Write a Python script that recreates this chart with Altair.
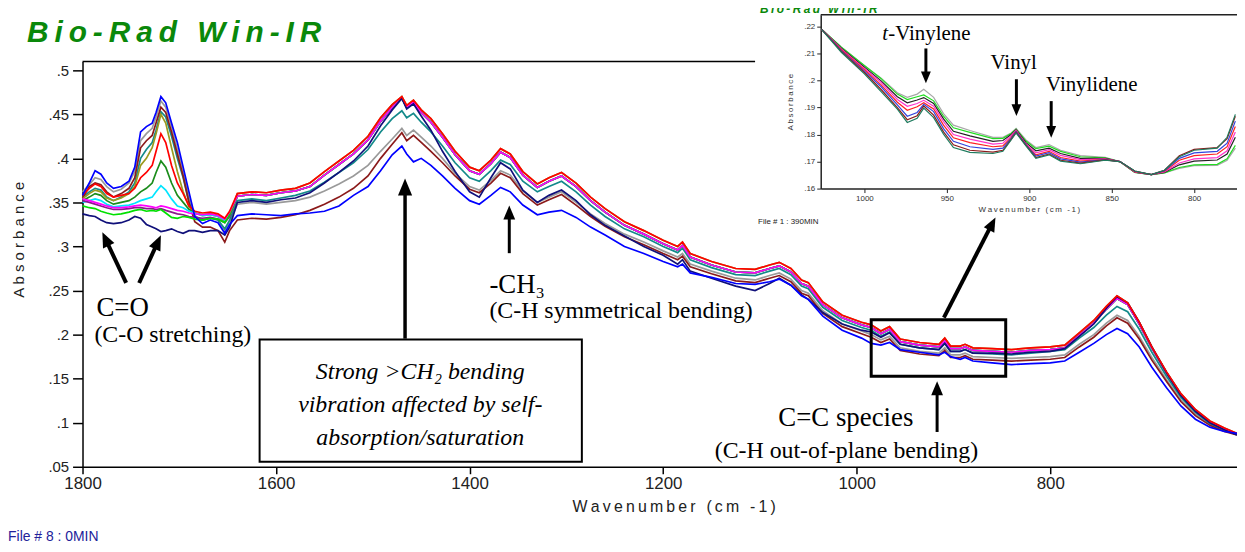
import altair as alt
import pandas as pd

# ---------------- main spectra: carbonyl head (1800-1648 cm-1) ----------------
HEAD_WN = [1800, 1793, 1787, 1781, 1775, 1768, 1760, 1752, 1746, 1740, 1734, 1728, 1724,
           1719, 1714, 1708, 1702, 1696, 1690, 1684, 1676, 1668, 1660, 1653, 1648]

BLUE_H = [0.358, 0.372, 0.386, 0.382, 0.372, 0.366, 0.368, 0.374, 0.390, 0.430, 0.436, 0.440, 0.452,
          0.470, 0.463, 0.440, 0.418, 0.390, 0.362, 0.334, 0.326, 0.330, 0.327, 0.315, 0.325]
GRAY_H = [0.362, 0.370, 0.378, 0.376, 0.368, 0.362, 0.365, 0.372, 0.385, 0.420, 0.428, 0.434, 0.447,
          0.465, 0.458, 0.436, 0.410, 0.386, 0.356, 0.335, 0.330, 0.332, 0.330, 0.318, 0.328]
DRED_H = [0.355, 0.368, 0.372, 0.370, 0.362, 0.356, 0.360, 0.366, 0.378, 0.412, 0.420, 0.426, 0.440,
          0.458, 0.452, 0.430, 0.405, 0.380, 0.350, 0.328, 0.322, 0.322, 0.318, 0.305, 0.318]
TEAL_H = [0.356, 0.362, 0.366, 0.364, 0.356, 0.352, 0.356, 0.362, 0.372, 0.400, 0.410, 0.418, 0.432,
          0.453, 0.447, 0.425, 0.400, 0.378, 0.350, 0.334, 0.330, 0.332, 0.330, 0.320, 0.330]
OLIVE_H = [0.354, 0.360, 0.364, 0.362, 0.355, 0.352, 0.355, 0.360, 0.368, 0.392, 0.400, 0.412, 0.428,
           0.450, 0.440, 0.412, 0.385, 0.362, 0.345, 0.338, 0.335, 0.336, 0.334, 0.328, 0.336]
RED_H = [0.358, 0.366, 0.371, 0.368, 0.360, 0.356, 0.358, 0.360, 0.366, 0.378, 0.384, 0.392, 0.408,
         0.428, 0.418, 0.392, 0.372, 0.360, 0.346, 0.340, 0.338, 0.339, 0.337, 0.332, 0.340]
DKGREEN_H = [0.352, 0.356, 0.360, 0.358, 0.352, 0.348, 0.350, 0.352, 0.356, 0.362, 0.366, 0.372, 0.384,
             0.397, 0.390, 0.372, 0.358, 0.350, 0.342, 0.338, 0.336, 0.337, 0.335, 0.330, 0.338]
CYAN_H = [0.350, 0.352, 0.354, 0.352, 0.348, 0.345, 0.346, 0.347, 0.349, 0.352, 0.354, 0.356, 0.362,
          0.369, 0.364, 0.354, 0.346, 0.344, 0.340, 0.338, 0.335, 0.336, 0.334, 0.330, 0.338]
MAGENTA_H = [0.354, 0.352, 0.350, 0.348, 0.346, 0.344, 0.344, 0.345, 0.346, 0.347, 0.346, 0.345, 0.344,
             0.346, 0.345, 0.343, 0.341, 0.340, 0.338, 0.337, 0.336, 0.337, 0.335, 0.331, 0.339]
LIME_H = [0.346, 0.344, 0.343, 0.340, 0.338, 0.336, 0.337, 0.339, 0.341, 0.342, 0.340, 0.341, 0.340,
          0.342, 0.338, 0.333, 0.332, 0.334, 0.333, 0.331, 0.330, 0.332, 0.331, 0.327, 0.336]
PURPLE_H = [0.352, 0.350, 0.348, 0.346, 0.344, 0.342, 0.342, 0.343, 0.344, 0.344, 0.343, 0.343, 0.342,
            0.343, 0.341, 0.339, 0.337, 0.336, 0.334, 0.333, 0.332, 0.333, 0.331, 0.327, 0.334]
NAVY_H = [0.337, 0.335, 0.334, 0.330, 0.327, 0.326, 0.327, 0.330, 0.334, 0.332, 0.325, 0.322, 0.320,
          0.317, 0.318, 0.320, 0.317, 0.315, 0.318, 0.318, 0.316, 0.318, 0.318, 0.313, 0.322]

# ---------------- main spectra: rest of the range (1640-607 cm-1) ----------------
TAIL_WN = [1640, 1625, 1610, 1595, 1580, 1565, 1550, 1535, 1520, 1505,
           1492, 1480, 1470, 1465, 1458, 1450, 1440, 1428, 1415, 1400,
           1390, 1378, 1368, 1358, 1345, 1330, 1318, 1305, 1290, 1275,
           1260, 1240, 1220, 1200, 1185, 1180, 1172, 1150, 1125, 1105,
           1090, 1080, 1068, 1057, 1050, 1035, 1015, 995, 985, 975,
           966, 955, 935, 915, 909, 903, 893, 888, 880, 860,
           840, 820, 800, 785, 770, 755, 742, 731, 720, 708,
           695, 680, 665, 650, 635, 620, 607]

T_TOP = [0.360, 0.362, 0.361, 0.364, 0.366, 0.372, 0.385, 0.397, 0.409, 0.425,
         0.446, 0.461, 0.470, 0.460, 0.466, 0.455, 0.445, 0.428, 0.408, 0.390,
         0.386, 0.398, 0.411, 0.405, 0.385, 0.371, 0.378, 0.384, 0.372, 0.356,
         0.343, 0.328, 0.318, 0.307, 0.300, 0.305, 0.292, 0.283, 0.275, 0.274,
         0.279, 0.282, 0.275, 0.262, 0.259, 0.237, 0.222, 0.214, 0.211, 0.204,
         0.209, 0.195, 0.191, 0.189, 0.196, 0.187, 0.187, 0.189, 0.185, 0.184,
         0.183, 0.185, 0.186, 0.188, 0.202, 0.216, 0.232, 0.244, 0.236, 0.214,
         0.186, 0.158, 0.133, 0.115, 0.102, 0.094, 0.088]
T_TOP2 = [0.357, 0.359, 0.358, 0.361, 0.363, 0.368, 0.381, 0.393, 0.405, 0.421,
          0.442, 0.458, 0.468, 0.458, 0.464, 0.452, 0.441, 0.424, 0.404, 0.386,
          0.382, 0.394, 0.407, 0.401, 0.381, 0.367, 0.374, 0.380, 0.368, 0.352,
          0.339, 0.324, 0.314, 0.303, 0.296, 0.301, 0.288, 0.279, 0.271, 0.270,
          0.275, 0.278, 0.271, 0.258, 0.255, 0.234, 0.219, 0.211, 0.208, 0.201,
          0.206, 0.192, 0.188, 0.186, 0.193, 0.184, 0.184, 0.186, 0.182, 0.181,
          0.180, 0.182, 0.183, 0.185, 0.199, 0.213, 0.229, 0.241, 0.234, 0.212,
          0.185, 0.157, 0.132, 0.114, 0.101, 0.093, 0.087]
T_NAVY = [0.350, 0.352, 0.350, 0.353, 0.355, 0.361, 0.372, 0.384, 0.397, 0.414,
          0.437, 0.455, 0.468, 0.456, 0.462, 0.448, 0.432, 0.408, 0.385, 0.362,
          0.356, 0.378, 0.395, 0.388, 0.364, 0.350, 0.358, 0.364, 0.352, 0.336,
          0.324, 0.312, 0.300, 0.290, 0.280, 0.285, 0.272, 0.264, 0.255, 0.250,
          0.258, 0.264, 0.256, 0.245, 0.240, 0.225, 0.212, 0.205, 0.203, 0.197,
          0.202, 0.189, 0.185, 0.183, 0.190, 0.181, 0.181, 0.183, 0.179, 0.179,
          0.178, 0.180, 0.181, 0.184, 0.198, 0.212, 0.230, 0.243, 0.236, 0.214,
          0.186, 0.157, 0.131, 0.113, 0.100, 0.092, 0.086]
T_TEAL = [0.352, 0.354, 0.352, 0.355, 0.358, 0.363, 0.373, 0.384, 0.395, 0.410,
          0.430, 0.445, 0.454, 0.446, 0.451, 0.441, 0.430, 0.414, 0.395, 0.378,
          0.374, 0.386, 0.398, 0.393, 0.374, 0.362, 0.368, 0.374, 0.362, 0.347,
          0.334, 0.320, 0.311, 0.300, 0.293, 0.298, 0.285, 0.276, 0.268, 0.267,
          0.272, 0.275, 0.268, 0.255, 0.252, 0.231, 0.216, 0.208, 0.205, 0.198,
          0.203, 0.189, 0.185, 0.183, 0.190, 0.181, 0.181, 0.183, 0.179, 0.178,
          0.177, 0.179, 0.181, 0.183, 0.196, 0.208, 0.222, 0.232, 0.226, 0.206,
          0.180, 0.153, 0.129, 0.112, 0.099, 0.092, 0.087]
T_GRAY = [0.348, 0.350, 0.348, 0.350, 0.352, 0.356, 0.363, 0.371, 0.380, 0.392,
          0.408, 0.422, 0.434, 0.426, 0.432, 0.424, 0.414, 0.400, 0.383, 0.368,
          0.364, 0.375, 0.386, 0.381, 0.363, 0.350, 0.356, 0.362, 0.350, 0.337,
          0.326, 0.314, 0.305, 0.295, 0.288, 0.292, 0.280, 0.272, 0.264, 0.262,
          0.267, 0.270, 0.263, 0.250, 0.247, 0.227, 0.212, 0.204, 0.200, 0.194,
          0.198, 0.185, 0.181, 0.179, 0.185, 0.177, 0.177, 0.179, 0.175, 0.174,
          0.173, 0.174, 0.175, 0.177, 0.189, 0.200, 0.213, 0.222, 0.216, 0.198,
          0.174, 0.149, 0.126, 0.110, 0.098, 0.091, 0.087]
T_DRED = [0.330, 0.332, 0.331, 0.333, 0.336, 0.341, 0.348, 0.356, 0.366, 0.380,
          0.400, 0.416, 0.429, 0.420, 0.426, 0.418, 0.408, 0.395, 0.380, 0.365,
          0.361, 0.372, 0.383, 0.378, 0.360, 0.347, 0.353, 0.359, 0.347, 0.334,
          0.323, 0.311, 0.302, 0.292, 0.285, 0.289, 0.277, 0.269, 0.261, 0.259,
          0.264, 0.267, 0.260, 0.247, 0.244, 0.224, 0.209, 0.201, 0.197, 0.191,
          0.195, 0.182, 0.178, 0.176, 0.182, 0.174, 0.174, 0.176, 0.172, 0.171,
          0.170, 0.171, 0.172, 0.174, 0.186, 0.197, 0.210, 0.219, 0.213, 0.195,
          0.171, 0.147, 0.124, 0.108, 0.097, 0.090, 0.086]
T_BLUE = [0.335, 0.337, 0.336, 0.335, 0.337, 0.338, 0.340, 0.346, 0.358, 0.368,
          0.386, 0.404, 0.414, 0.405, 0.396, 0.400, 0.392, 0.380, 0.366, 0.352,
          0.348, 0.358, 0.367, 0.362, 0.347, 0.336, 0.339, 0.341, 0.333, 0.322,
          0.313, 0.300, 0.292, 0.283, 0.277, 0.280, 0.270, 0.265, 0.258, 0.257,
          0.260, 0.263, 0.256, 0.244, 0.240, 0.221, 0.205, 0.196, 0.190, 0.188,
          0.191, 0.183, 0.180, 0.177, 0.180, 0.175, 0.172, 0.174, 0.170, 0.168,
          0.166, 0.167, 0.168, 0.170, 0.180, 0.190, 0.200, 0.207, 0.201, 0.186,
          0.163, 0.140, 0.119, 0.104, 0.095, 0.090, 0.088]

MAIN_NAMES = ["gray", "teal", "dark red", "olive", "dark green", "cyan", "purple",
              "lime", "magenta", "navy", "red", "blue"]
MAIN_COLORS = ["#9a9a9a", "#138a8a", "#8b1a1a", "#9a9a1e", "#1a8c1a", "#00e5ff", "#8a1a8a",
               "#00e000", "#ff00ff", "#10107a", "#ff0000", "#0000ff"]
MAIN_HEADS = [GRAY_H, TEAL_H, DRED_H, OLIVE_H, DKGREEN_H, CYAN_H, PURPLE_H,
              LIME_H, MAGENTA_H, NAVY_H, RED_H, BLUE_H]
MAIN_TAILS = [T_GRAY, T_TEAL, T_DRED, T_TOP, T_TOP2, T_TOP2, T_TOP2,
              T_TOP2, T_TOP2, T_NAVY, T_TOP, T_BLUE]

# ---------------- inset spectra (1026-775 cm-1) ----------------
INSET_WN = [1026, 1014, 1000, 990, 980, 974, 968, 964, 958, 952, 946, 936, 922, 916, 911, 908,
            902, 896, 888, 881, 869, 854, 845, 836, 826, 818, 809, 800, 786, 780, 775]
IN_GRAY = [0.2190, 0.2125, 0.2055, 0.2010, 0.1955, 0.1938, 0.1950, 0.1968, 0.1938, 0.1878, 0.1835,
           0.1815, 0.1790, 0.1790, 0.1806, 0.1823, 0.1780, 0.1752, 0.1763, 0.1742, 0.1722, 0.1716,
           0.1700, 0.1660, 0.1652, 0.1658, 0.1675, 0.1685, 0.1686, 0.1705, 0.1750]
IN_LIME = [0.2190, 0.2124, 0.2056, 0.2008, 0.1950, 0.1930, 0.1940, 0.1947, 0.1925, 0.1868, 0.1825,
           0.1808, 0.1785, 0.1786, 0.1804, 0.1820, 0.1776, 0.1748, 0.1757, 0.1738, 0.1718, 0.1714,
           0.1699, 0.1660, 0.1652, 0.1658, 0.1678, 0.1688, 0.1690, 0.1710, 0.1760]
IN_BLACK = [0.2190, 0.2120, 0.2050, 0.2000, 0.1940, 0.1918, 0.1928, 0.1937, 0.1915, 0.1858, 0.1812,
            0.1795, 0.1775, 0.1778, 0.1800, 0.1818, 0.1770, 0.1740, 0.1750, 0.1730, 0.1712, 0.1712,
            0.1700, 0.1661, 0.1652, 0.1660, 0.1688, 0.1702, 0.1706, 0.1728, 0.1790]
IN_MAGENTA = [0.2190, 0.2117, 0.2045, 0.1994, 0.1930, 0.1905, 0.1915, 0.1927, 0.1905, 0.1848, 0.1800,
              0.1783, 0.1765, 0.1768, 0.1796, 0.1816, 0.1765, 0.1732, 0.1744, 0.1723, 0.1707, 0.1710,
              0.1700, 0.1662, 0.1652, 0.1662, 0.1695, 0.1710, 0.1715, 0.1740, 0.1810]
IN_RED = [0.2190, 0.2114, 0.2040, 0.1985, 0.1920, 0.1890, 0.1903, 0.1918, 0.1895, 0.1835, 0.1788,
          0.1770, 0.1755, 0.1758, 0.1790, 0.1813, 0.1763, 0.1725, 0.1738, 0.1715, 0.1702, 0.1708,
          0.1700, 0.1663, 0.1652, 0.1664, 0.1705, 0.1722, 0.1728, 0.1755, 0.1830]
IN_BLUE = [0.2190, 0.2111, 0.2035, 0.1978, 0.1910, 0.1868, 0.1882, 0.1912, 0.1885, 0.1822, 0.1775,
           0.1755, 0.1745, 0.1750, 0.1786, 0.1811, 0.1762, 0.1720, 0.1733, 0.1710, 0.1698, 0.1707,
           0.1700, 0.1664, 0.1652, 0.1666, 0.1712, 0.1732, 0.1738, 0.1768, 0.1850]
IN_DRED = [0.2190, 0.2108, 0.2030, 0.1968, 0.1900, 0.1855, 0.1870, 0.1906, 0.1872, 0.1810, 0.1762,
           0.1742, 0.1735, 0.1742, 0.1782, 0.1808, 0.1760, 0.1715, 0.1728, 0.1705, 0.1694, 0.1706,
           0.1700, 0.1665, 0.1652, 0.1668, 0.1722, 0.1745, 0.1752, 0.1785, 0.1868]
IN_TEAL = [0.2190, 0.2105, 0.2025, 0.1960, 0.1894, 0.1845, 0.1860, 0.1898, 0.1863, 0.1802, 0.1752,
           0.1734, 0.1730, 0.1738, 0.1780, 0.1806, 0.1758, 0.1712, 0.1725, 0.1702, 0.1692, 0.1705,
           0.1700, 0.1665, 0.1652, 0.1668, 0.1718, 0.1742, 0.1750, 0.1790, 0.1875]
INSET_NAMES = ["i-gray", "i-lime", "i-black", "i-magenta", "i-red", "i-blue", "i-darkred", "i-teal"]
INSET_COLORS = ["#a8a8a8", "#22dd22", "#222222", "#ff33cc", "#ff2020", "#3344dd", "#8b1a1a", "#1e7b5e"]
INSET_VALUES = [IN_GRAY, IN_LIME, IN_BLACK, IN_MAGENTA, IN_RED, IN_BLUE, IN_DRED, IN_TEAL]

X_TICKS = [1800, 1600, 1400, 1200, 1000, 800]
Y_TICKS = [0.05, 0.1, 0.15, 0.2, 0.25, 0.3, 0.35, 0.4, 0.45, 0.5]
IN_X_TICKS = [1000, 950, 900, 850, 800]
IN_Y_TICKS = [0.16, 0.17, 0.18, 0.19, 0.2, 0.21, 0.22]


def spaced(s, sep="\u2009"):
    return sep.join(s)


# ---------------- tables ----------------
main_rows = []
for name, head, tail in zip(MAIN_NAMES, MAIN_HEADS, MAIN_TAILS):
    for w, v in zip(HEAD_WN + TAIL_WN, head + tail):
        main_rows.append({"series": name, "wn": w, "a": v})
main_df = pd.DataFrame(main_rows)

inset_rows = []
for name, vals in zip(INSET_NAMES, INSET_VALUES):
    for w, v in zip(INSET_WN, vals):
        inset_rows.append({"series": name, "wn": w, "a": v})
inset_df = pd.DataFrame(inset_rows)

# annotations (data coordinates)
big_labels = pd.DataFrame([
    {"wn": 1785.6, "a": 0.2214, "label": "C=O"},
    {"wn": 1379.5, "a": 0.2473, "label": "-CH\u2083"},
    {"wn": 1081.0, "a": 0.0962, "label": "C=C species"},
])
mid_labels = pd.DataFrame([
    {"wn": 1787.7, "a": 0.1920, "label": "(C-O stretching)"},
    {"wn": 1379.5, "a": 0.2191, "label": "(C-H symmetrical bending)"},
    {"wn": 1146.7, "a": 0.0601, "label": "(C-H out-of-plane bending)"},
])
box_labels = pd.DataFrame([
    {"wn": 1451.0, "a": 0.1492, "label": "Strong >CH\u2082 bending"},
    {"wn": 1451.0, "a": 0.1120, "label": "vibration affected by self-"},
    {"wn": 1451.0, "a": 0.0748, "label": "absorption/saturation"},
])
title_label = pd.DataFrame([{"wn": 1857.4, "a": 0.5325, "label": spaced("Bio-Rad Win-IR")}])
file_label = pd.DataFrame([{"wn": 1876.9, "a": -0.0346, "label": "File # 8 : 0MIN"}])
main_box = pd.DataFrame([{"wn": 1617.0, "wn2": 1284.0, "a": 0.1943, "a2": 0.0556}])
cc_box = pd.DataFrame([{"wn": 985.0, "wn2": 846.0, "a": 0.2169, "a2": 0.1526}])
top_border = pd.DataFrame([{"wn": 1800, "wn2": 1105, "a": 0.51, "a2": 0.51}])
main_shafts = pd.DataFrame([
    {"wn": 1466.7, "a": 0.1954, "wn2": 1466.7, "a2": 0.3657, "sw": 3.5},
    {"wn": 1359.0, "a": 0.2924, "wn2": 1359.0, "a2": 0.3375, "sw": 3.0},
    {"wn": 916.9, "a": 0.0895, "wn2": 916.9, "a2": 0.1379, "sw": 3.0},
    {"wn": 1754.9, "a": 0.2586, "wn2": 1775.6, "a2": 0.3069, "sw": 4.0},
    {"wn": 1741.5, "a": 0.2586, "wn2": 1722.9, "a2": 0.3034, "sw": 4.0},
])
main_heads = pd.DataFrame([
    {"wn": 1466.7, "a": 0.3770, "ang": 0, "sz": 1150},
    {"wn": 1359.0, "a": 0.3465, "ang": 0, "sz": 800},
    {"wn": 916.9, "a": 0.1470, "ang": 0, "sz": 800},
    {"wn": 1779.5, "a": 0.3161, "ang": 334.8, "sz": 900},
    {"wn": 1719.0, "a": 0.3127, "ang": 24.6, "sz": 900},
])

inset_texts = pd.DataFrame([
    {"wn": 985.5, "a": 0.2152, "label": "-Vinylene"},
    {"wn": 923.5, "a": 0.2042, "label": "Vinyl"},
    {"wn": 889.8, "a": 0.1961, "label": "Vinylidene"},
])
inset_italic = pd.DataFrame([{"wn": 989.2, "a": 0.2152, "label": "t"}])
inset_title = pd.DataFrame([{"wn": 1063.3, "a": 0.2252, "label": spaced("Bio-Rad Win-IR")}])
inset_file = pd.DataFrame([{"wn": 1064.5, "a": 0.1468, "label": "File # 1 : 390MIN"}])
inset_border = pd.DataFrame([{"wn": 1026.5, "wn2": 774, "a": 0.2244, "a2": 0.2244}])
inset_shafts = pd.DataFrame([
    {"wn": 962.7, "a": 0.2119, "wn2": 962.7, "a2": 0.2020, "sw": 3.0},
    {"wn": 907.8, "a": 0.2005, "wn2": 907.8, "a2": 0.1898, "sw": 3.0},
    {"wn": 886.7, "a": 0.1924, "wn2": 886.7, "a2": 0.1817, "sw": 3.0},
    {"wn": 951.8, "a": 0.1122, "wn2": 923.3, "a2": 0.1461, "sw": 4.0},
])
inset_heads = pd.DataFrame([
    {"wn": 962.7, "a": 0.1990, "ang": 180, "sz": 560},
    {"wn": 907.8, "a": 0.1869, "ang": 180, "sz": 560},
    {"wn": 886.7, "a": 0.1788, "ang": 180, "sz": 560},
    {"wn": 920.5, "a": 0.1493, "ang": 27.2, "sz": 800},
])

HEAD_PATH = "M0,0L0.42,1L-0.42,1Z"
LABEL_EXPR = "substring(format(datum.value, '.2~f'), 1)"

# ---------------- main scales / axes ----------------
X_MAIN = alt.X("wn:Q",
               scale=alt.Scale(domain=[1800, 607], nice=False, zero=False),
               axis=alt.Axis(orient="bottom", values=X_TICKS, format="d", grid=False,
                             labelFlush=False,
                             tickSize=7, tickWidth=1.5, tickColor="black",
                             domainColor="black", domainWidth=1.5,
                             labelFont="Liberation Sans", labelFontSize=17, labelColor="#222",
                             labelPadding=2,
                             title=spaced("Wavenumber (cm -1)"), titleFont="Liberation Sans",
                             titleFontSize=16, titleFontWeight="normal", titleColor="#222",
                             titlePadding=7, titleX=595))
Y_MAIN = alt.Y("a:Q",
               scale=alt.Scale(domain=[0.05, 0.51], nice=False, zero=False),
               axis=alt.Axis(orient="left", values=Y_TICKS, labelExpr=LABEL_EXPR, grid=False,
                             labelFlush=False,
                             tickSize=10, tickWidth=1.5, tickColor="black",
                             domainColor="black", domainWidth=1.5,
                             labelFont="Liberation Sans", labelFontSize=15, labelColor="#222",
                             labelPadding=4,
                             title=spaced("Absorbance", " "), titleFont="Liberation Sans",
                             titleFontSize=15, titleFontWeight="normal", titleColor="#222",
                             titlePadding=22, titleY=179))

lines = alt.Chart(main_df).mark_line(strokeWidth=1.7).encode(
    x=X_MAIN, y=Y_MAIN,
    color=alt.Color("series:N", scale=alt.Scale(domain=MAIN_NAMES, range=MAIN_COLORS), legend=None),
)
border = alt.Chart(top_border).mark_rule(color="black", strokeWidth=1.5).encode(
    x=X_MAIN, x2="wn2:Q", y=Y_MAIN)
box = alt.Chart(main_box).mark_rect(fill="white", stroke="black", strokeWidth=2).encode(
    x=X_MAIN, x2="wn2:Q", y=Y_MAIN, y2="a2:Q")
ccbox = alt.Chart(cc_box).mark_rect(fillOpacity=0, stroke="black", strokeWidth=3).encode(
    x=X_MAIN, x2="wn2:Q", y=Y_MAIN, y2="a2:Q")
t_big = alt.Chart(big_labels).mark_text(font="Liberation Serif", fontSize=27, align="left",
                                        baseline="alphabetic", color="black").encode(
    x=X_MAIN, y=Y_MAIN, text="label:N")
t_mid = alt.Chart(mid_labels).mark_text(font="Liberation Serif", fontSize=24, align="left",
                                        baseline="alphabetic", color="black").encode(
    x=X_MAIN, y=Y_MAIN, text="label:N")
t_box = alt.Chart(box_labels).mark_text(font="Liberation Serif", fontSize=24, fontStyle="italic",
                                        align="center", baseline="alphabetic", color="black").encode(
    x=X_MAIN, y=Y_MAIN, text="label:N")
t_title = alt.Chart(title_label).mark_text(font="Liberation Sans", fontSize=30, fontWeight="bold",
                                           fontStyle="italic", align="left", baseline="alphabetic",
                                           color="#0a880a").encode(
    x=X_MAIN, y=Y_MAIN, text="label:N")
t_file = alt.Chart(file_label).mark_text(font="Liberation Sans", fontSize=14, align="left",
                                         baseline="alphabetic", color="#22229a").encode(
    x=X_MAIN, y=Y_MAIN, text="label:N")
shafts = alt.Chart(main_shafts).mark_rule(color="black", strokeCap="butt").encode(
    x=X_MAIN, x2="wn2:Q", y=Y_MAIN, y2="a2:Q", strokeWidth=alt.StrokeWidth("sw:Q", scale=None))
heads = alt.Chart(main_heads).mark_point(shape=HEAD_PATH, filled=True, color="black",
                                         strokeWidth=0, opacity=1).encode(
    x=X_MAIN, y=Y_MAIN, angle=alt.Angle("ang:Q", scale=None), size=alt.Size("sz:Q", scale=None))

main_layer = alt.layer(lines, border, box, ccbox, t_big, t_mid, t_box, t_title, t_file, shafts, heads)

# ---------------- inset scales / axes ----------------
X_IN = alt.X("wn:Q",
             scale=alt.Scale(domain=[1026.5, 774], range=[743, 1162], nice=False, zero=False),
             axis=alt.Axis(orient="bottom", offset=-280, values=IN_X_TICKS, format="d", grid=False,
                           labelFlush=False,
                           tickSize=4, tickColor="#222", domainColor="#222", domainWidth=1.5,
                           labelFont="Liberation Sans", labelFontSize=8, labelColor="#333",
                           labelPadding=2,
                           title=spaced("Wavenumber (cm -1)"), titleFont="Liberation Sans",
                           titleFontSize=8, titleFontWeight="normal", titleColor="#333",
                           titlePadding=3))
Y_IN = alt.Y("a:Q",
             scale=alt.Scale(domain=[0.16, 0.2244], range=[128, -47], nice=False, zero=False),
             axis=alt.Axis(orient="left", offset=-743, values=IN_Y_TICKS, labelExpr=LABEL_EXPR,
                           grid=False, labelFlush=False, tickSize=4, tickColor="#222",
                           domainColor="#222",
                           domainWidth=1.5, labelFont="Liberation Sans", labelFontSize=8,
                           labelColor="#333", labelPadding=2,
                           title=spaced("Absorbance"), titleFont="Liberation Sans", titleFontSize=8,
                           titleFontWeight="normal", titleColor="#333", titlePadding=9))

in_lines = alt.Chart(inset_df).mark_line(strokeWidth=1.2).encode(
    x=X_IN, y=Y_IN,
    color=alt.Color("series:N", scale=alt.Scale(domain=INSET_NAMES, range=INSET_COLORS), legend=None),
)
in_border = alt.Chart(inset_border).mark_rule(color="#222", strokeWidth=1.5).encode(
    x=X_IN, x2="wn2:Q", y=Y_IN)
in_text = alt.Chart(inset_texts).mark_text(font="Liberation Serif", fontSize=21, align="left",
                                           baseline="alphabetic", color="black").encode(
    x=X_IN, y=Y_IN, text="label:N")
in_ital = alt.Chart(inset_italic).mark_text(font="Liberation Serif", fontSize=21, fontStyle="italic",
                                            align="left", baseline="alphabetic", color="black").encode(
    x=X_IN, y=Y_IN, text="label:N")
in_title = alt.Chart(inset_title).mark_text(font="Liberation Sans", fontSize=12, fontWeight="bold",
                                            fontStyle="italic", align="left", baseline="alphabetic",
                                            color="#0a880a").encode(
    x=X_IN, y=Y_IN, text="label:N")
in_file = alt.Chart(inset_file).mark_text(font="Liberation Sans", fontSize=8, align="left",
                                          baseline="alphabetic", color="#222").encode(
    x=X_IN, y=Y_IN, text="label:N")
in_shafts = alt.Chart(inset_shafts).mark_rule(color="black", strokeCap="butt").encode(
    x=X_IN, x2="wn2:Q", y=Y_IN, y2="a2:Q", strokeWidth=alt.StrokeWidth("sw:Q", scale=None))
in_heads = alt.Chart(inset_heads).mark_point(shape=HEAD_PATH, filled=True, color="black",
                                             strokeWidth=0, opacity=1).encode(
    x=X_IN, y=Y_IN, angle=alt.Angle("ang:Q", scale=None), size=alt.Size("sz:Q", scale=None))

inset_layer = alt.layer(in_lines, in_border, in_text, in_ital, in_title, in_file, in_shafts, in_heads)

chart = alt.layer(main_layer, inset_layer).resolve_scale(
    x="independent", y="independent", color="independent"
).properties(
    width=1162, height=408,
    autosize=alt.AutoSizeParams(type="none"),
    padding={"left": 75, "top": 52, "right": 0, "bottom": 82},
    background="white",
).configure_view(strokeWidth=0)

chart.save("out.html", embed_options={"renderer": "svg", "actions": False})
